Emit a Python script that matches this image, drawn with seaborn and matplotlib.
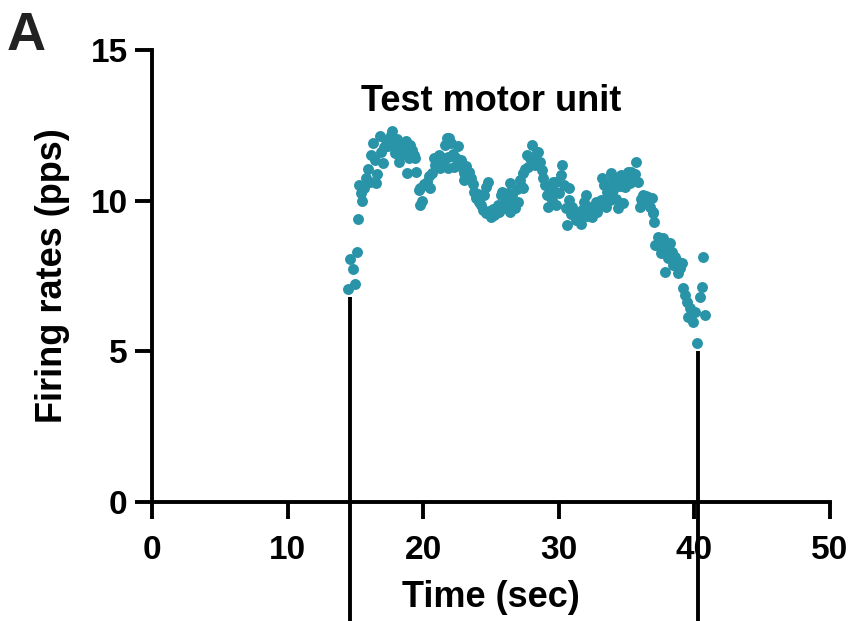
import matplotlib
matplotlib.use("Agg")
import matplotlib.pyplot as plt
import seaborn as sns
import pandas as pd

# Spike times (s) and instantaneous firing rates (pps) of the test motor unit
time_sec = [
    14.45, 14.58, 14.82, 14.95, 15.12, 15.19, 15.30, 15.44, 15.49, 15.62,
    15.80, 15.93, 16.05, 16.17, 16.30, 16.42, 16.54, 16.60, 16.79, 16.88,
    17.00, 17.10, 17.22, 17.40, 17.52, 17.65, 17.69, 17.82, 17.95, 18.05,
    18.19, 18.30, 18.44, 18.55, 18.70, 18.81, 18.81, 18.93, 19.05, 19.17,
    19.30, 19.42, 19.47, 19.67, 19.79, 19.79, 19.90, 20.05, 20.16, 20.28,
    20.40, 20.53, 20.65, 20.77, 20.89, 21.02, 21.14, 21.26, 21.39, 21.50,
    21.63, 21.76, 21.80, 21.80, 21.93, 22.05, 22.17, 22.29, 22.42, 22.54,
    22.66, 22.80, 22.92, 23.03, 23.03, 23.15, 23.28, 23.40, 23.52, 23.65,
    23.77, 23.89, 24.02, 24.14, 24.26, 24.38, 24.50, 24.63, 24.63, 24.75,
    24.88, 25.00, 25.12, 25.25, 25.37, 25.49, 25.62, 25.74, 25.79, 25.91,
    26.04, 26.16, 26.28, 26.40, 26.40, 26.53, 26.65, 26.77, 26.90, 27.02,
    27.14, 27.26, 27.38, 27.38, 27.50, 27.63, 27.75, 27.88, 28.00, 28.12,
    28.24, 28.37, 28.49, 28.61, 28.73, 28.86, 28.98, 29.10, 29.23, 29.35,
    29.47, 29.60, 29.72, 29.77, 29.77, 29.99, 30.14, 30.26, 30.38, 30.50,
    30.63, 30.75, 30.75, 30.87, 30.99, 31.12, 31.24, 31.36, 31.49, 31.60,
    31.74, 31.86, 31.98, 32.10, 32.23, 32.35, 32.47, 32.60, 32.72, 32.84,
    32.96, 33.09, 33.21, 33.33, 33.45, 33.58, 33.58, 33.70, 33.75, 33.87,
    33.87, 34.00, 34.12, 34.25, 34.37, 34.49, 34.61, 34.73, 34.86, 34.98,
    35.10, 35.23, 35.35, 35.47, 35.59, 35.71, 35.84, 35.96, 36.08, 36.21,
    36.33, 36.46, 36.58, 36.70, 36.85, 36.92, 36.95, 37.02, 37.07, 37.22,
    37.32, 37.44, 37.56, 37.70, 37.83, 37.83, 37.83, 37.95, 38.08, 38.20,
    38.33, 38.45, 38.57, 38.70, 38.81, 38.94, 39.06, 39.18, 39.31, 39.42,
    39.53, 39.65, 39.78, 39.90, 40.03, 40.16, 40.41, 40.54, 40.66, 40.76,
]
firing_rate = [
    7.06, 8.05, 7.72, 7.22, 8.31, 9.39, 10.52, 10.27, 10.00, 10.42,
    10.74, 11.04, 10.62, 11.52, 11.90, 11.35, 10.58, 10.90, 12.15, 11.62,
    11.24, 11.78, 12.02, 11.80, 11.95, 12.18, 12.30, 11.85, 11.57, 12.05,
    11.29, 11.92, 11.79, 11.55, 11.98, 11.63, 10.91, 11.40, 11.85, 11.68,
    11.50, 11.40, 10.96, 10.36, 10.41, 9.86, 9.98, 10.55, 10.52, 10.63,
    10.82, 10.41, 10.91, 11.40, 11.18, 11.30, 11.52, 11.10, 11.24, 11.42,
    11.85, 12.07, 11.46, 11.07, 12.07, 11.90, 11.55, 11.13, 11.40, 11.80,
    11.18, 11.35, 11.05, 10.91, 10.69, 11.15, 10.85, 10.96, 10.74, 10.55,
    10.30, 10.08, 10.22, 9.97, 9.86, 9.70, 10.20, 10.46, 9.58, 10.63,
    9.65, 9.47, 9.72, 9.52, 9.58, 9.86, 9.62, 10.19, 10.30, 9.86,
    9.75, 10.02, 10.25, 9.64, 10.58, 10.19, 9.90, 9.75, 10.38, 9.97,
    10.69, 10.45, 10.91, 10.41, 11.05, 11.52, 11.13, 11.40, 11.85, 11.35,
    11.20, 11.60, 11.63, 11.29, 11.02, 10.75, 10.52, 10.19, 9.80, 10.46,
    10.02, 10.62, 10.30, 10.63, 9.86, 10.25, 10.85, 11.18, 10.52, 9.75,
    9.20, 10.41, 10.02, 9.55, 9.80, 9.64, 9.35, 9.36, 9.53, 9.22,
    9.70, 9.97, 10.19, 9.48, 9.62, 9.80, 9.45, 9.70, 9.97, 9.64,
    9.85, 10.02, 10.74, 10.52, 9.78, 10.30, 10.08, 10.55, 10.02, 10.91,
    10.63, 10.35, 10.70, 10.05, 9.75, 10.48, 10.85, 9.91, 10.46, 10.69,
    10.95, 10.58, 10.96, 10.72, 10.88, 11.29, 10.63, 9.80, 10.05, 10.19,
    9.95, 10.15, 10.13, 9.80, 10.08, 9.58, 9.64, 9.30, 8.53, 8.53,
    8.81, 8.59, 8.25, 8.75, 8.53, 8.31, 7.64, 8.45, 8.09, 8.59,
    8.30, 7.85, 8.14, 8.00, 7.59, 7.75, 7.92, 7.09, 6.87, 6.65,
    6.15, 6.43, 6.20, 5.98, 6.30, 5.27, 6.81, 7.15, 8.14, 6.20,
]

# Recruitment / derecruitment markers: (time, rate at the top of the line)
marker_times = [14.6, 40.29]
marker_tops = [6.8, 5.0]

x_ticks = [0, 10, 20, 30, 40, 50]
y_ticks = [0, 5, 10, 15]

sns.set_style("ticks")
plt.rcParams["font.family"] = ["Liberation Sans", "DejaVu Sans"]
plt.rcParams["font.weight"] = "bold"
plt.rcParams["text.color"] = "black"
plt.rcParams["axes.labelcolor"] = "black"

df = pd.DataFrame({"Time": time_sec, "Rate": firing_rate})

fig = plt.figure(figsize=(8.52, 6.21), dpi=100)
ax = fig.add_axes([0.1784, 0.1916, 0.7958, 0.7279])

sns.scatterplot(data=df, x="Time", y="Rate", ax=ax, color="#2993a8",
                s=62, linewidth=0, legend=False, zorder=3)

for t, top in zip(marker_times, marker_tops):
    ax.plot([t, t], [top, -4.6], color="black", lw=2.8, clip_on=False,
            solid_capstyle="butt", zorder=4)

ax.set_xlim(0, 50)
ax.set_ylim(0, 15)
ax.set_xticks(x_ticks)
ax.set_yticks(y_ticks)
ax.set_xticklabels([str(v) for v in x_ticks], fontsize=24, fontweight="bold")
ax.set_yticklabels([str(v) for v in y_ticks], fontsize=24, fontweight="bold")
ax.tick_params(axis="both", width=2.8, length=12.5, colors="black")
ax.tick_params(axis="x", pad=11)
ax.tick_params(axis="y", pad=5)

for side in ["top", "right"]:
    ax.spines[side].set_visible(False)
for side in ["left", "bottom"]:
    ax.spines[side].set_linewidth(2.8)
    ax.spines[side].set_color("black")

ax.set_xlabel("Time (sec)", fontsize=26, fontweight="bold", labelpad=10)
ax.set_ylabel("Firing rates (pps)", fontsize=26, fontweight="bold", labelpad=15)

ax.text(25, 13.3, "Test motor unit", ha="center", va="center",
        fontsize=26, fontweight="bold", color="black")

fig.text(0.008, 0.982, "A", ha="left", va="top", fontsize=39,
         fontweight="bold", color="#222222")

fig.savefig("out.png", dpi=100)
